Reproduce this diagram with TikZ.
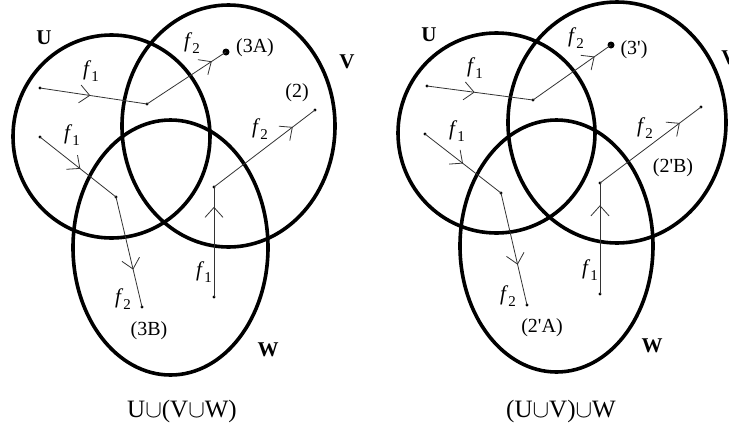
\documentclass[tikz,border=0pt]{standalone}
\usepackage{fontspec}
\setmainfont{Liberation Serif}
\usetikzlibrary{arrows.meta,decorations.markings}
\tikzset{
  setring/.style={line width=3.6pt, black},
  track/.style={line width=0.8pt, black!80},
  midarrow/.style={postaction={decorate}, decoration={markings,
     mark=at position #1 with {\arrow[line width=0.8pt]{Straight Barb[length=10pt,width=18pt]}}}},
  smalldot/.style={circle, fill=black, inner sep=0pt, minimum size=3.4pt},
  bigdot/.style={circle, fill=black, inner sep=0pt, minimum size=7pt},
  flabel/.style={font=\fontsize{21}{21}\selectfont, inner sep=0pt},
  plabel/.style={font=\fontsize{20}{20}\selectfont, inner sep=0pt},
  setlabel/.style={font=\fontsize{21}{21}\selectfont\bfseries, inner sep=0pt},
  caption/.style={font=\fontsize{25}{25}\selectfont, inner sep=0pt}
}
\newcommand{\fsub}[1]{\textit{f}\raisebox{-0.32em}{\fontsize{15}{15}\selectfont #1}}
\begin{document}
\begin{tikzpicture}[x=1pt,y=-1pt]
\useasboundingbox (0,0) rectangle (729,437);
\clip (0,0) rectangle (729,437);
\fill[white] (0,0) rectangle (729,437);

% ---------------- left diagram ----------------
\draw[setring] (111.5,136.5) ellipse [x radius=98.5, y radius=101.5];
\draw[setring] (228.5,126) ellipse [x radius=106.5, y radius=121];
\draw[setring] (170.5,247.5) ellipse [x radius=97.5, y radius=127.5];

\node[smalldot] (la0) at (40,88) {};
\node[smalldot] (la1) at (147,104) {};
\node[bigdot]   (la2) at (226,52) {};
\node[smalldot] (lb0) at (40,137) {};
\node[smalldot] (lb1) at (116,197) {};
\node[smalldot] (lb2) at (142,307) {};
\node[smalldot] (lc0) at (214,297) {};
\node[smalldot] (lc1) at (214,187) {};
\node[smalldot] (lc2) at (315,110) {};

\draw[track, midarrow=0.47] (la0.center) -- (la1.center);
\draw[track, midarrow=0.82] (la1.center) -- (la2.center);
\draw[track, midarrow=0.53] (lb0.center) -- (lb1.center);
\draw[track, midarrow=0.66] (lb1.center) -- (lb2.center);
\draw[track, midarrow=0.82] (lc0.center) -- (lc1.center);
\draw[track, midarrow=0.78] (lc1.center) -- (lc2.center);

\node[flabel] (lf1a) at (91,71) {\fsub{1}};
\node[flabel] (lf2a) at (192,43) {\fsub{2}};
\node[plabel] (l3a) at (255,48) {(3A)};
\node[plabel] (l2) at (297,93) {(2)};
\node[flabel] (lf1b) at (72,135) {\fsub{1}};
\node[flabel] (lf2c) at (260,129) {\fsub{2}};
\node[flabel] (lf1c) at (204,272) {\fsub{1}};
\node[flabel] (lf2b) at (123,299) {\fsub{2}};
\node[plabel] (l3b) at (149,331) {(3B)};
\node[setlabel] (lU) at (44,38) {U};
\node[setlabel] (lV) at (347,62) {V};
\node[setlabel] (lW) at (268,350) {W};
\node[caption] (lcap) at (182,411) {U$\cup$(V$\cup$W)};

% ---------------- right diagram ----------------
\draw[setring] (496.5,133) ellipse [x radius=98.5, y radius=100];
\draw[setring] (617,122.5) ellipse [x radius=109, y radius=120.5];
\draw[setring] (556.5,246) ellipse [x radius=96.5, y radius=126];

\node[smalldot] (ra0) at (427,86) {};
\node[smalldot] (ra1) at (533,100) {};
\node[bigdot]   (ra2) at (611,45) {};
\node[smalldot] (rb0) at (425,134) {};
\node[smalldot] (rb1) at (501,193) {};
\node[smalldot] (rb2) at (527,305) {};
\node[smalldot] (rc0) at (600,294) {};
\node[smalldot] (rc1) at (600,183) {};
\node[smalldot] (rc2) at (701,107) {};

\draw[track, midarrow=0.45] (ra0.center) -- (ra1.center);
\draw[track, midarrow=0.79] (ra1.center) -- (ra2.center);
\draw[track, midarrow=0.50] (rb0.center) -- (rb1.center);
\draw[track, midarrow=0.64] (rb1.center) -- (rb2.center);
\draw[track, midarrow=0.80] (rc0.center) -- (rc1.center);
\draw[track, midarrow=0.79] (rc1.center) -- (rc2.center);

\node[flabel] (rf1a) at (475,68) {\fsub{1}};
\node[flabel] (rf2a) at (576,38) {\fsub{2}};
\node[plabel] (r3) at (634,50) {(3\textquotesingle)};
\node[flabel] (rf1b) at (457,131) {\fsub{1}};
\node[flabel] (rf2c) at (645,128) {\fsub{2}};
\node[plabel] (r2b) at (673,168) {(2\textquotesingle B)};
\node[flabel] (rf1c) at (590,270) {\fsub{1}};
\node[flabel] (rf2b) at (508,296) {\fsub{2}};
\node[plabel] (r2a) at (542,328) {(2\textquotesingle A)};
\node[setlabel] (rU) at (429,35) {U};
\node[setlabel] (rV) at (729,58) {V};
\node[setlabel] (rW) at (652,346) {W};
\node[caption] (rcap) at (561,411) {(U$\cup$V)$\cup$W};
\end{tikzpicture}
\end{document}
